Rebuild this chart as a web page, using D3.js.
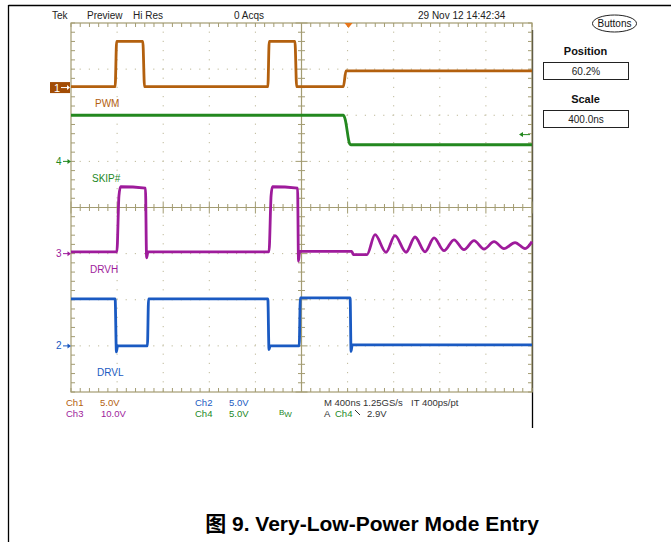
<!DOCTYPE html>
<html><head><meta charset="utf-8">
<script src="https://cdn.jsdelivr.net/npm/d3@7"></script>
<style>body{margin:0;background:#fff}</style>
</head><body>
<svg id="c" width="671" height="542"></svg>
<script>
// ---- data (time in ns relative to trigger, value in volts) ----
const timePerDiv = 400;           // ns/div
const triggerPosition = 0.602;    // 60.2 %
const channelNames = ["PWM", "SKIP#", "DRVH", "DRVL"];
const channelIds = ["1", "4", "3", "2"];
const voltsPerDiv = [5, 5, 10, 5];
const groundDiv = [2.6, 1.0, -1.0, -3.0];
const colors = ["#b3600e", "#23881f", "#9e1b9b", "#1a5ac2"];

const pwm = [[-2408,0.1],[-2025,0.1],[-2012,5.0],[-1785,5.0],[-1770,0.1],[-700,0.1],[-688,5.0],[-465,5.0],[-450,0.1],[-45,0.1],[-22,1.8],[1592,1.8]];
const skip = [[-2408,5.0],[-45,5.0],[-30,4.6],[10,1.9],[20,1.8],[1592,1.8]];
const drvh = [[-2408,0.4],[-2010,0.4],[-1992,12.5],[-1978,14.5],[-1762,14.2],[-1752,-0.9],[-1740,0.4],[-690,0.4],[-672,12.5],[-660,14.5],[-442,14.2],[-434,-1.6],[-424,0.5],[28,0.5],[42,-0.2],[160,-0.2],[230,4.1],[325,0.3],[403,3.9],[499,0.3],[577,3.6],[664,0.4],[742,3.4],[829,0.65],[915,3.0],[1002,0.85],[1089,2.8],[1176,1.0],[1263,2.6],[1349,1.1],[1445,2.4],[1532,1.1],[1592,2.6]];
const drvl = [[-2408,5.1],[-2025,5.1],[-2014,-0.65],[-2004,0.0],[-1745,0.0],[-1735,5.1],[-700,5.1],[-690,-0.4],[-680,0.0],[-428,0.0],[-418,5.2],[14,5.2],[22,-0.6],[32,0.1],[1592,0.1]];
const traces = [pwm, skip, drvh, drvl];

const headerTexts = ["Tek", "Preview", "Hi Res", "0 Acqs", "29 Nov 12 14:42:34"];
const statusRow1 = [["Ch1",0],["5.0V",0],["Ch2",3],["5.0V",3],["M 400ns 1.25GS/s",-1],["IT 400ps/pt",-1]];
const statusRow2 = [["Ch3",2],["10.0V",2],["Ch4",1],["5.0V",1]];
const triggerLevel = 2.9;
const positionText = "60.2%";
const scaleText = "400.0ns";
const caption = "图 9. Very-Low-Power Mode Entry";

// ---- layout ----
const svg = d3.select("#c");
const L = 71, R = 532, T = 23, B = 392;
const tMin = -triggerPosition * 10 * timePerDiv, tMax = tMin + 10 * timePerDiv;
const x = d3.scaleLinear().domain([tMin, tMax]).range([L, R]);
const xDiv = d3.scaleLinear().domain([0, 10]).range([L, R]);
const y = d3.scaleLinear().domain([-4, 4]).range([B, T]);
const gridC = "#a39c72", dotC = "#bdb898";
const font = "'Liberation Sans', Arial, sans-serif";

// outer frame
svg.append("line").attr("x1",8.5).attr("x2",671).attr("y1",5.5).attr("y2",5.5).attr("stroke","#000").attr("stroke-width",1.3);
svg.append("line").attr("x1",8.5).attr("x2",8.5).attr("y1",5).attr("y2",542).attr("stroke","#000").attr("stroke-width",1.3);
svg.append("line").attr("x1",532.5).attr("x2",532.5).attr("y1",30).attr("y2",428).attr("stroke","#000").attr("stroke-width",1.3);

const g = svg.append("g");
// dotted grid
d3.range(1,10).forEach(i => { if (i===5) return;
  g.append("line").attr("x1",xDiv(i)).attr("x2",xDiv(i)).attr("y1",T).attr("y2",B)
   .attr("stroke",dotC).attr("stroke-dasharray","1.2,8").attr("stroke-dashoffset",-8.6);
});
d3.range(-3,4).forEach(i => { if (i===0) return;
  g.append("line").attr("x1",L).attr("x2",R).attr("y1",y(i)).attr("y2",y(i))
   .attr("stroke",dotC).attr("stroke-dasharray","1.2,8").attr("stroke-dashoffset",-8.6);
});
// frame and centre lines
g.append("rect").attr("x",L).attr("y",T).attr("width",R-L).attr("height",B-T).attr("fill","none").attr("stroke",gridC).attr("stroke-width",1.2);
g.append("line").attr("x1",xDiv(5)).attr("x2",xDiv(5)).attr("y1",T).attr("y2",B).attr("stroke",gridC).attr("stroke-width",1.2);
g.append("line").attr("x1",L).attr("x2",R).attr("y1",y(0)).attr("y2",y(0)).attr("stroke",gridC).attr("stroke-width",1.2);
// minor ticks
d3.range(0,50.01,1).forEach(k => {
  const xx = xDiv(k/5), major = k%5===0, len = major?6:3.5;
  g.append("line").attr("x1",xx).attr("x2",xx).attr("y1",y(0)-len).attr("y2",y(0)+len).attr("stroke",gridC);
  g.append("line").attr("x1",xx).attr("x2",xx).attr("y1",T).attr("y2",T+4).attr("stroke",gridC);
  g.append("line").attr("x1",xx).attr("x2",xx).attr("y1",B-4).attr("y2",B).attr("stroke",gridC);
});
d3.range(-20,20.01,1).forEach(k => {
  const yy = y(k/5), major = k%5===0, len = major?6:3.5;
  g.append("line").attr("y1",yy).attr("y2",yy).attr("x1",xDiv(5)-len).attr("x2",xDiv(5)+len).attr("stroke",gridC);
  g.append("line").attr("y1",yy).attr("y2",yy).attr("x1",L).attr("x2",L+4).attr("stroke",gridC);
  g.append("line").attr("y1",yy).attr("y2",yy).attr("x1",R-4).attr("x2",R).attr("stroke",gridC);
});

// traces
traces.forEach((tr, i) => {
  const line = d3.line().curve(d3.curveMonotoneX)
    .x(d => x(d[0])).y(d => y(groundDiv[i] + d[1] / voltsPerDiv[i]));
  svg.append("path").datum(tr).attr("d", line).attr("fill","none")
    .attr("stroke", colors[i]).attr("stroke-width", 2.8).attr("stroke-linejoin","round");
});

// trace labels
const labelPos = [[95,107],[92,182],[90,273],[97,376]];
channelNames.forEach((n,i) => {
  svg.append("text").attr("x",labelPos[i][0]).attr("y",labelPos[i][1]).text(n)
    .attr("fill",colors[i]).attr("font-family",font).attr("font-size",10);
});

// ground markers
channelIds.forEach((id,i) => {
  const yy = y(groundDiv[i]);
  if (i === 0) {
    svg.append("rect").attr("x",50).attr("y",yy-5.5).attr("width",20).attr("height",11).attr("fill","#a24c05");
    svg.append("text").attr("x",54).attr("y",yy+4).text(id).attr("fill","#fff").attr("font-family",font).attr("font-size",11);
    svg.append("line").attr("x1",61).attr("x2",67).attr("y1",yy).attr("y2",yy).attr("stroke","#fff");
    svg.append("path").attr("d",`M${70},${yy} l-3,-2.5 l0,5 z`).attr("fill","#fff");
  } else {
    svg.append("text").attr("x",56).attr("y",yy+3.5).text(id).attr("fill",colors[i]).attr("font-family",font).attr("font-size",10);
    svg.append("line").attr("x1",63).attr("x2",68).attr("y1",yy).attr("y2",yy).attr("stroke",colors[i]);
    svg.append("path").attr("d",`M${71},${yy} l-3.5,-2.5 l0,5 z`).attr("fill",colors[i]);
  }
});

// trigger markers
svg.append("path").attr("d",`M${x(0)-4},${T} l8,0 l-4,5 z`).attr("fill","#e8761a");
const ty = y(groundDiv[1] + triggerLevel / voltsPerDiv[1]);
svg.append("line").attr("x1",522).attr("x2",530).attr("y1",ty).attr("y2",ty).attr("stroke",colors[1]);
svg.append("path").attr("d",`M${519},${ty} l4,-2.5 l0,5 z`).attr("fill",colors[1]);

// header
const headerX = [52, 87, 133, 234, 418];
headerTexts.forEach((t,i) => svg.append("text").attr("x",headerX[i]).attr("y",19).text(t)
  .attr("fill","#222").attr("font-family",font).attr("font-size",10));

// right panel
svg.append("ellipse").attr("cx",614.5).attr("cy",23.5).attr("rx",22).attr("ry",8.5)
  .attr("fill","none").attr("stroke","#222");
svg.append("text").attr("x",614.5).attr("y",27).attr("text-anchor","middle").text("Buttons")
  .attr("font-family",font).attr("font-size",10).attr("fill","#111");
[["Position",55,positionText,62],["Scale",103,scaleText,110]].forEach(p => {
  svg.append("text").attr("x",585.5).attr("y",p[1]).attr("text-anchor","middle").text(p[0])
    .attr("font-family",font).attr("font-weight","bold").attr("font-size",11).attr("fill","#111");
  svg.append("rect").attr("x",543.5).attr("y",p[3]+0.5).attr("width",85).attr("height",17)
    .attr("fill","#fff").attr("stroke","#222");
  svg.append("text").attr("x",586).attr("y",p[3]+13).attr("text-anchor","middle").text(p[2])
    .attr("font-family",font).attr("font-size",10).attr("fill","#222");
});

// status lines
const row1X = [66,100,195,229,324,411];
statusRow1.forEach((s,i) => svg.append("text").attr("x",row1X[i]).attr("y",406).text(s[0])
  .attr("fill", s[1] >= 0 ? colors[s[1]] : "#333").attr("font-family",font).attr("font-size",9.5));
const row2X = [66,101,195,229];
statusRow2.forEach((s,i) => svg.append("text").attr("x",row2X[i]).attr("y",417).text(s[0])
  .attr("fill", colors[s[1]]).attr("font-family",font).attr("font-size",9.5));
const bw = svg.append("text").attr("x",279).attr("y",417).attr("fill",colors[1]).attr("font-family",font).attr("font-size",8);
bw.append("tspan").text("B").attr("dy",-2);
bw.append("tspan").text("W").attr("dy",2);
svg.append("text").attr("x",324).attr("y",417).text("A").attr("fill","#333").attr("font-family",font).attr("font-size",9.5);
svg.append("text").attr("x",335).attr("y",417).text("Ch4").attr("fill",colors[1]).attr("font-family",font).attr("font-size",9.5);
svg.append("line").attr("x1",355).attr("x2",360).attr("y1",410).attr("y2",415).attr("stroke","#333");
svg.append("text").attr("x",367).attr("y",417).text(triggerLevel.toFixed(1)+"V").attr("fill","#333").attr("font-family",font).attr("font-size",9.5);

// caption
svg.append("text").attr("x",372).attr("y",531).attr("text-anchor","middle").text(caption)
  .attr("font-family","'Liberation Sans','Noto Sans CJK SC',Arial,sans-serif").attr("font-weight","bold")
  .attr("font-size",21).attr("fill","#000");
</script>
</body></html>
